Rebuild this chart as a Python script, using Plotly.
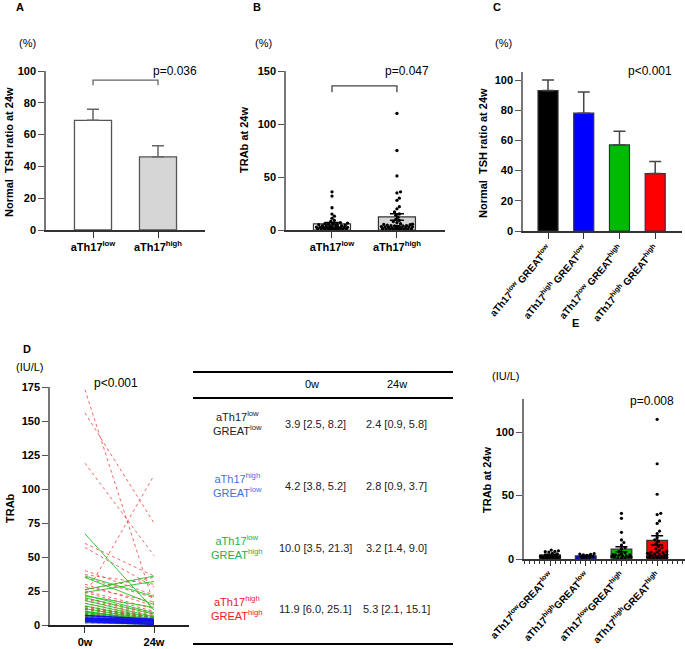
import plotly.graph_objects as go
import numpy as np

W, H = 685, 649
FONT = "Arial, Liberation Sans, sans-serif"

# ---------------- data ----------------
# Panel A: normal TSH ratio at 24w (%)
a_groups = ["aTh17<sup>low</sup>", "aTh17<sup>high</sup>"]
a_mean = [69, 46]
a_err = [7, 7]
a_p = "p=0.036"

# Panel C: normal TSH ratio at 24w (%)
c_groups = ["aTh17<sup>low</sup> GREAT<sup>low</sup>", "aTh17<sup>high</sup> GREAT<sup>low</sup>",
            "aTh17<sup>low</sup> GREAT<sup>high</sup>", "aTh17<sup>high</sup> GREAT<sup>high</sup>"]
c_mean = [93, 78, 57, 38]
c_err = [7, 14, 9, 8]
c_p = "p<0.001"

# TRAb per patient (0w, 24w), by group (paired)
blk_0w = [1.5, 2.0, 2.5, 2.6, 3.0, 3.4, 3.7, 3.9, 3.9, 4.5, 5.0, 6.0, 7.5, 8.2, 9.0, 10.5, 12.0, 14.0]
blk_24w = [0.5, 0.7, 0.9, 0.9, 1.0, 1.5, 2.0, 2.3, 2.5, 2.8, 3.0, 4.0, 5.5, 5.8, 6.0, 6.5, 7.0, 4.5]
blu_0w = [2.5, 3.8, 3.8, 4.0, 4.2, 4.6, 5.0, 5.2, 7.0]
blu_24w = [0.5, 0.9, 0.9, 2.0, 2.8, 3.2, 3.7, 3.9, 4.2]
grn_0w = [67, 36, 35, 26, 24, 22, 21.3, 20, 18, 16, 14, 12, 10, 10, 9.5, 8.5, 7.5, 6.5, 5, 3.5, 3.5, 3, 2.5, 1.5]
grn_24w = [11, 21, 15, 36, 32, 9, 13, 8, 6, 5, 4, 3.5, 3.2, 3.2, 3, 2.5, 2.2, 2, 1.5, 1.4, 1.4, 1, 0.8, 0.5]
red_0w = [173, 156, 119, 60, 57, 40, 37, 35, 30, 28, 26, 25.1, 24, 22, 20, 19, 18, 16, 14, 13,
          12, 11.9, 11.5, 10, 9, 8.5, 8, 7, 6.5, 6, 6, 5.5, 5, 4.5, 4, 3.5, 3, 2.5]
red_24w = [15.1, 75, 51, 36, 28, 22, 30, 20, 14, 17, 35, 12, 10, 110, 9, 8, 7, 6, 5.5, 5.3,
           5, 4.5, 4, 3.5, 3, 2.8, 2.5, 2.1, 2, 3.8, 1.8, 1.5, 1.2, 1, 0.8, 0.6, 0.5, 0.3]

b_groups = ["aTh17<sup>low</sup>", "aTh17<sup>high</sup>"]
b_p = "p=0.047"
d_p = "p<0.001"
e_p = "p=0.008"
e_groups = ["aTh17<sup>low</sup>GREAT<sup>low</sup>", "aTh17<sup>high</sup>GREAT<sup>low</sup>",
            "aTh17<sup>low</sup>GREAT<sup>high</sup>", "aTh17<sup>high</sup>GREAT<sup>high</sup>"]
d_times = ["0w", "24w"]

# table (median [IQR])
t_rows = ["aTh17<sup>low</sup><br>GREAT<sup>low</sup>", "aTh17<sup>high</sup><br>GREAT<sup>low</sup>",
          "aTh17<sup>low</sup><br>GREAT<sup>high</sup>", "aTh17<sup>high</sup><br>GREAT<sup>high</sup>"]
t_0w = ["3.9 [2.5, 8.2]", "4.2 [3.8, 5.2]", "10.0 [3.5, 21.3]", "11.9 [6.0, 25.1]"]
t_24w = ["2.4 [0.9, 5.8]", "2.8 [0.9, 3.7]", "3.2 [1.4, 9.0]", "5.3 [2.1, 15.1]"]

# ---------------- style ----------------
grp_colors = ["#000000", "#0000ff", "#00bb00", "#ff0000"]
tbl_colors = ["#222222", "#3d73e6", "#1fae4a", "#ee2020"]


def PX(x):
    return x / W


def PY(y):
    return 1 - y / H


def sem(v):
    v = np.asarray(v, float)
    return float(v.std(ddof=1) / np.sqrt(len(v)))


def swarm(values, ppu_y, ppu_x, r=3.2, step=1.2, lim=16):
    placed = []
    offs = []
    for v in values:
        y = v * ppu_y
        best, bestd = 0.0, -1
        chosen = None
        k = 0
        while True:
            c = 0 if k == 0 else ((k + 1) // 2) * step * (1 if k % 2 else -1)
            if abs(c) > lim:
                break
            d = min([np.hypot(c - px, y - py) for px, py in placed] or [1e9])
            if d >= r:
                chosen = c
                break
            if d > bestd:
                best, bestd = c, d
            k += 1
        if chosen is None:
            chosen = best
        placed.append((chosen, y))
        offs.append(chosen / ppu_x)
    return offs


fig = go.Figure()

axis_common = dict(showline=True, linewidth=1.5, ticks="outside", ticklen=6, tickwidth=1.3, automargin=False,
                   showgrid=False, zeroline=False, tickfont=dict(family=FONT, size=11, color="black", weight="bold"))

# panel pixel boxes: (x0, x1, y_top, y_bottom)
boxes = {
    "A": (46, 205, 71, 230),
    "B": (286, 445, 71, 230),
    "C": (523, 682, 72, 231),
    "D": (50, 189, 387, 625),
    "E": (524, 685, 399, 559),
}
names = ["A", "B", "C", "D", "E"]
layout_axes = {}
for i, n in enumerate(names):
    x0, x1, yt, yb = boxes[n]
    sfx = "" if i == 0 else str(i + 1)
    layout_axes["xaxis" + sfx] = dict(domain=[PX(x0), PX(x1)], anchor="y" + sfx, linecolor="#333333",
                                      tickcolor="#333333", **axis_common)
    layout_axes["yaxis" + sfx] = dict(domain=[PY(yb), PY(yt)], anchor="x" + sfx, linecolor="#777777",
                                      tickcolor="#555555", **axis_common)

# ---- Panel A ----
fig.add_trace(go.Bar(x=[0, 1], y=a_mean, width=0.57, marker=dict(color=["white", "#d6d6d6"],
                     line=dict(color="#555555", width=1.3)),
                     error_y=dict(type="data", array=a_err, arrayminus=[0, 0], symmetric=False,
                                  color="#666666", thickness=1.5, width=6), xaxis="x", yaxis="y"))
layout_axes["xaxis"].update(range=[-0.723, 1.723], tickvals=[0, 1], ticktext=a_groups)
layout_axes["yaxis"].update(range=[0, 100], tickvals=list(range(0, 101, 20)))

# ---- Panel B ----
b_low = blk_24w + grn_24w
b_high = blu_24w + red_24w
b_ppu_y = 159 / 150
b_ppu_x = 65
for xi, vals, col in [(0, b_low, "white"), (1, b_high, "#d6d6d6")]:
    fig.add_trace(go.Bar(x=[xi], y=[float(np.mean(vals))], width=0.57,
                         marker=dict(color=col, line=dict(color="#333333", width=1.2)),
                         xaxis="x2", yaxis="y2"))
for xi, vals in [(0, b_low), (1, b_high)]:
    sv = sorted(vals)
    offs = swarm(sv, b_ppu_y, b_ppu_x)
    fig.add_trace(go.Scatter(x=[xi + o for o in offs], y=sv, mode="markers",
                             marker=dict(color="black", size=3.3, symbol="circle"),
                             xaxis="x2", yaxis="y2"))
    fig.add_trace(go.Scatter(x=[xi], y=[float(np.mean(vals))], mode="markers", marker=dict(size=0.1, color="black"),
                             error_y=dict(type="data", array=[sem(vals)], color="black", thickness=1.5, width=7),
                             xaxis="x2", yaxis="y2"))
layout_axes["xaxis2"].update(range=[-0.708, 1.74], tickvals=[0, 1], ticktext=b_groups)
layout_axes["yaxis2"].update(range=[0, 150], tickvals=[0, 50, 100, 150])

# ---- Panel C ----
fig.add_trace(go.Bar(x=list(range(4)), y=c_mean, width=0.56,
                     marker=dict(color=grp_colors, line=dict(color="#333333", width=1.2)),
                     error_y=dict(type="data", array=c_err, arrayminus=[0] * 4, symmetric=False,
                                  color="#444444", thickness=1.5, width=6), xaxis="x3", yaxis="y3"))
layout_axes["xaxis3"].update(range=[-0.70, 3.75], tickvals=list(range(4)), ticktext=c_groups, tickangle=-50,
                             tickfont=dict(family=FONT, size=10, color="black", weight="bold"))
layout_axes["yaxis3"].update(range=[0, 105.3], tickvals=list(range(0, 101, 20)))

# ---- Panel D ----
d_sets = [
    (blk_0w, blk_24w, dict(color="rgba(110,110,110,0.55)", width=1, dash="dot")),
    (red_0w, red_24w, dict(color="rgba(240,50,50,0.75)", width=1, dash="dot")),
    (grn_0w, grn_24w, dict(color="rgba(20,190,20,0.85)", width=1)),
    (blu_0w, blu_24w, dict(color="rgb(20,20,235)", width=1.6)),
]
for w0, w24, ln in d_sets:
    xs, ys = [], []
    for a, b in zip(w0, w24):
        xs += [0, 1, None]
        ys += [a, b, None]
    fig.add_trace(go.Scatter(x=xs, y=ys, mode="lines", line=ln, xaxis="x4", yaxis="y4"))
layout_axes["xaxis4"].update(range=[-0.507, 1.507], tickvals=[0, 1], ticktext=d_times, linecolor="#222222")
layout_axes["yaxis4"].update(range=[0, 175], tickvals=list(range(0, 176, 25)))

# ---- Panel E ----
e_sets = [blk_24w, blu_24w, grn_24w, red_24w]
e_ppu_y = 160 / 126
e_ppu_x = 35.7
for xi, vals in enumerate(e_sets):
    fig.add_trace(go.Bar(x=[xi], y=[float(np.mean(vals))], width=0.58,
                         marker=dict(color=grp_colors[xi], line=dict(color="#333333", width=1.2)),
                         xaxis="x5", yaxis="y5"))
for xi, vals in enumerate(e_sets):
    sv = sorted(vals)
    offs = swarm(sv, e_ppu_y, e_ppu_x, r=3.0, step=1.2, lim=10)
    fig.add_trace(go.Scatter(x=[xi + o for o in offs], y=sv, mode="markers",
                             marker=dict(color="black", size=3.2),
                             xaxis="x5", yaxis="y5"))
    fig.add_trace(go.Scatter(x=[xi], y=[float(np.mean(vals))], mode="markers", marker=dict(size=0.1, color="black"),
                             error_y=dict(type="data", array=[sem(vals)], color="black", thickness=1.5, width=6),
                             xaxis="x5", yaxis="y5"))
layout_axes["xaxis5"].update(range=[-0.73, 3.78], tickvals=list(range(4)), ticktext=e_groups, tickangle=-47,
                             ticklen=5,
                             tickfont=dict(family=FONT, size=10, color="black", weight="bold"),
                             minor=dict(dtick=1 / 7, tick0=0, ticks="outside", ticklen=3, tickcolor="#333333"))
layout_axes["yaxis5"].update(range=[0, 126], tickvals=[0, 50, 100])

# ---------------- annotations ----------------
ann = []


def text(x, y, s, size=11, bold=False, color="black", angle=0, xanchor="center", yanchor="middle"):
    ann.append(dict(x=PX(x), y=PY(y), xref="paper", yref="paper", text=("<b>%s</b>" % s) if bold else s,
                    showarrow=False, textangle=angle, xanchor=xanchor, yanchor=yanchor,
                    font=dict(family=FONT, size=size, color=color)))


for lab, x, y in [("A", 20, 7), ("B", 257, 7), ("C", 497, 7), ("D", 27, 349), ("E", 575, 323)]:
    text(x, y, lab, size=11, bold=True)
for s, x, y in [("(%)", 27, 43), ("(%)", 263, 43), ("(%)", 504, 43), ("(IU/L)", 30, 367), ("(IU/L)", 506, 376)]:
    text(x, y, s, size=11)
for s, x, y in [(a_p, 175, 71), (b_p, 407, 71), (c_p, 650, 71), (d_p, 116, 383), (e_p, 652, 401)]:
    text(x, y, s, size=12)
text(9, 152, "Normal  TSH ratio at 24w", size=11, bold=True, angle=-90)
text(244, 140, "TRAb at 24w", size=11, bold=True, angle=-90)
text(483, 153, "Normal  TSH ratio at 24w", size=11, bold=True, angle=-90)
text(10, 508, "TRAb", size=11, bold=True, angle=-90)
text(487, 480, "TRAb at 24w", size=11, bold=True, angle=-90)

# table
text(312, 384, d_times[0], size=11)
text(397, 384, d_times[1], size=11)
row_y = [424, 486, 548, 609]
for i in range(4):
    text(237, row_y[i] - 1, t_rows[i], size=11, color=tbl_colors[i])
    text(315, row_y[i], t_0w[i], size=11, color="#222222")
    text(396, row_y[i], t_24w[i], size=11, color="#222222")

shapes = []
for y in [372, 398, 644]:
    shapes.append(dict(type="line", xref="paper", yref="paper", x0=PX(193), x1=PX(453), y0=PY(y), y1=PY(y),
                       line=dict(color="black", width=2)))
# significance brackets
shapes += [
    dict(type="path", xref="x", yref="y", path="M 0,91 L 0,94.3 L 1,94.3 L 1,91",
         line=dict(color="#666666", width=1.3)),
    dict(type="path", xref="x2", yref="y2", path="M 0,130 L 0,136 L 1,136 L 1,130",
         line=dict(color="#444444", width=1.3)),
]

fig.update_layout(width=W, height=H, autosize=False, margin=dict(l=0, r=0, t=0, b=0, pad=0, autoexpand=False),
                  paper_bgcolor="white",
                  plot_bgcolor="white", showlegend=False, annotations=ann, shapes=shapes, barmode="overlay",
                  font=dict(family=FONT), **layout_axes)
fig.write_html("out.html", config={"responsive": False, "displayModeBar": False},
               post_script="document.body.style.margin='0';document.body.style.overflow='hidden';")
